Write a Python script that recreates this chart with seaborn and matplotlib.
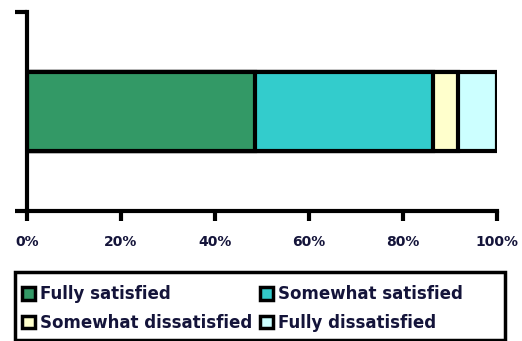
import matplotlib
matplotlib.use("Agg")
import matplotlib.pyplot as plt
from matplotlib.patches import Patch, Rectangle
import pandas as pd
import seaborn as sns

categories = ["Fully satisfied", "Somewhat satisfied", "Somewhat dissatisfied", "Fully dissatisfied"]
shares = [48.6, 37.8, 5.4, 8.2]
colors = ["#339966", "#33CCCC", "#FFFFCC", "#CCFFFF"]
tick_values = [0, 20, 40, 60, 80, 100]
tick_labels = ["0%", "20%", "40%", "60%", "80%", "100%"]

sns.set_style("white")
plt.rcParams["font.family"] = ["DejaVu Sans"]
text_color = "#14143a"

W, H = 522, 341
fig = plt.figure(figsize=(W / 100, H / 100), dpi=100)
ax = fig.add_axes([27 / W, 1 - 211 / H, 470 / W, 199 / H])

# cumulative ends of each segment; draw the longest first so shorter ones sit on top
cum = []
total = 0
for s in shares:
    total += s
    cum.append(total)

for i in reversed(range(len(shares))):
    df = pd.DataFrame({"group": ["all"], "value": [cum[i]]})
    sns.barplot(data=df, x="value", y="group", orient="h", color=colors[i],
                saturation=1, width=0.4, edgecolor="black", linewidth=3, ax=ax)

ax.set_xlim(0, 100)
ax.set_ylim(0.5, -0.5)
ax.set_xlabel("")
ax.set_ylabel("")
ax.set_xticks(tick_values)
ax.set_xticklabels(tick_labels, fontsize=10, fontweight="bold", color=text_color)
ax.set_yticks([-0.5, 0.5])
ax.set_yticklabels(["", ""])
ax.tick_params(axis="x", direction="out", length=7, width=3, color="black", pad=10, bottom=True)
ax.tick_params(axis="y", direction="out", length=9, width=3, color="black", left=True)
for side in ["top", "right"]:
    ax.spines[side].set_visible(False)
for side in ["left", "bottom"]:
    ax.spines[side].set_linewidth(3)
    ax.spines[side].set_color("black")

# legend box drawn separately so the entries keep their natural spacing
fig.patches.append(Rectangle((15 / W, 1 - 340 / H), 490 / W, 68 / H,
                             transform=fig.transFigure, facecolor="white",
                             edgecolor="black", linewidth=2.5))

# entries listed column by column so they read across the rows
order = [0, 2, 1, 3]
handles = [Patch(facecolor=colors[i], edgecolor="black", linewidth=2.5) for i in order]
labels = [categories[i] for i in order]
leg = fig.legend(handles, labels, ncol=2, loc="upper left",
                 bbox_to_anchor=(9 / W, 1 - 272 / H),
                 frameon=False,
                 handlelength=0.75, handleheight=0.75, handletextpad=0.3,
                 columnspacing=0.5, labelspacing=0.65, borderpad=0.3,
                 prop={"size": 12, "weight": "bold"})
for t in leg.get_texts():
    t.set_color(text_color)

fig.savefig("out.png", dpi=100)
